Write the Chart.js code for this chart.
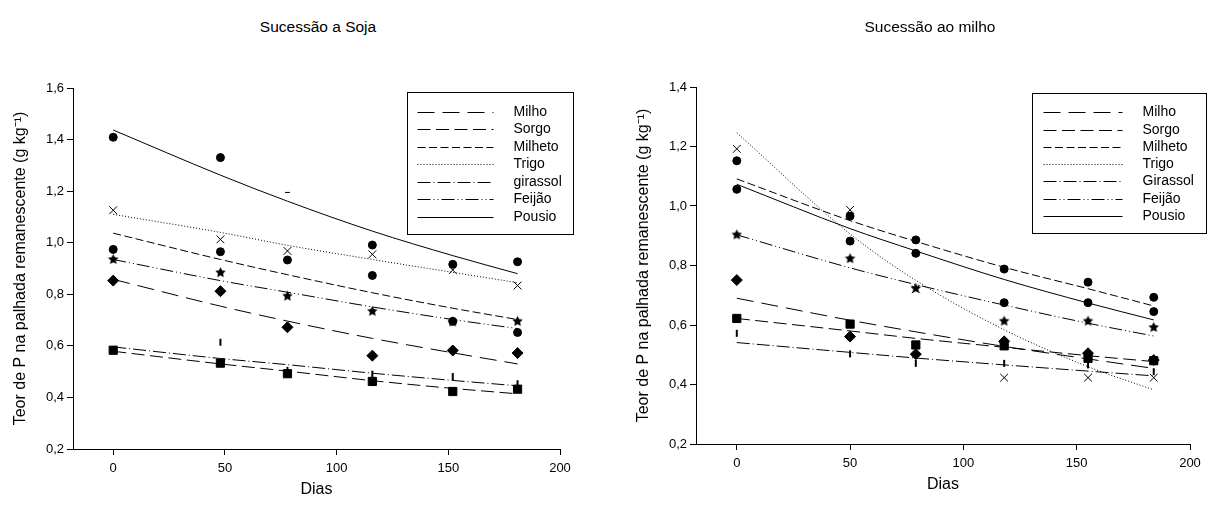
<!DOCTYPE html>
<html lang="pt">
<head>
<meta charset="utf-8">
<title>Teor de P na palhada remanescente</title>
<script src="https://cdn.jsdelivr.net/npm/chart.js@4.4.1/dist/chart.umd.min.js"></script>
<style>
    body { margin: 0; background: #fff; font-family: "Liberation Sans", Arial, sans-serif; }
    .painel { position: absolute; top: 0; height: 506px; }
    .painel h3 {
        position: absolute; top: 17px; left: 0; right: 0; margin: 0;
        text-align: center; font-weight: normal; font-size: 15.5px; line-height: 20px; color: #000;
    }
    .painel canvas { position: absolute; top: 40px; left: 0; }
</style>
</head>
<body>

<div class="painel" style="left:0;width:636px">
    <h3>Sucessão a Soja</h3>
    <canvas id="graficoSoja" width="636" height="466"></canvas>
</div>

<div class="painel" style="left:634px;width:592px">
    <h3>Sucessão ao milho</h3>
    <canvas id="graficoMilho" width="592" height="466"></canvas>
</div>

<script>
    // dias de coleta e eixos
    const diasSoja = [0, 48, 78, 116, 152, 181];
    const diasMilho = [0, 50, 79, 118, 155, 184];
    const ticksDias = [0, 50, 100, 150, 200];
    const ticksTeorSoja = [0.2, 0.4, 0.6, 0.8, 1.0, 1.2, 1.4, 1.6];
    const ticksTeorMilho = [0.2, 0.4, 0.6, 0.8, 1.0, 1.2, 1.4];

    const culturasSoja = ['Milho', 'Sorgo', 'Milheto', 'Trigo', 'girassol', 'Feijão', 'Pousio'];
    const culturasMilho = ['Milho', 'Sorgo', 'Milheto', 'Trigo', 'Girassol', 'Feijão', 'Pousio'];

    // teor medido - sucessão a soja
    const milhoSoja = [0.853, 0.812, 0.672, 0.562, 0.582, 0.572];
    const sorgoSoja = [0.583, 0.533, 0.492, 0.462, 0.423, 0.432];
    const milhetoSoja = [0.974, 0.965, 0.933, 0.873, 0.695, 0.652];
    const trigoSoja = [1.126, 1.013, 0.968, 0.955, 0.894, 0.834];
    const girassolSoja = [0.585, 0.614, 0.505, 0.490, 0.481, 0.453];
    const feijaoSoja = [0.935, 0.884, 0.793, 0.734, 0.693, 0.695];
    const pousioSoja = [1.409, 1.330, 1.195, 0.991, 0.916, 0.926];

    // curvas ajustadas - sucessão a soja
    const milhoAjSoja = [0.858, 0.754, 0.696, 0.629, 0.573, 0.530];
    const sorgoAjSoja = [0.579, 0.530, 0.502, 0.465, 0.435, 0.414];
    const milhetoAjSoja = [1.037, 0.935, 0.876, 0.806, 0.746, 0.702];
    const trigoAjSoja = [1.110, 1.040, 0.990, 0.935, 0.885, 0.845];
    const girassolAjSoja = [0.596, 0.551, 0.527, 0.494, 0.466, 0.445];
    const feijaoAjSoja = [0.935, 0.853, 0.808, 0.751, 0.702, 0.667];
    const pousioAjSoja = [1.437, 1.262, 1.161, 1.045, 0.950, 0.880];

    // teor medido - sucessão ao milho
    const milhoMilho = [0.751, 0.561, 0.502, 0.545, 0.505, 0.482];
    const sorgoMilho = [0.622, 0.603, 0.533, 0.530, 0.488, 0.480];
    const milhetoMilho = [1.152, 0.966, 0.886, 0.788, 0.744, 0.693];
    const trigoMilho = [1.192, 0.987, 0.720, 0.423, 0.423, 0.423];
    const girassolMilho = [0.572, 0.503, 0.471, 0.471, 0.466, 0.443];
    const feijaoMilho = [0.903, 0.823, 0.723, 0.613, 0.613, 0.592];
    const pousioMilho = [1.056, 0.882, 0.841, 0.675, 0.675, 0.645];

    // curvas ajustadas - sucessão ao milho
    const milhoAjMilho = [0.690, 0.616, 0.577, 0.528, 0.486, 0.454];
    const sorgoAjMilho = [0.622, 0.580, 0.555, 0.525, 0.497, 0.477];
    const milhetoAjMilho = [1.091, 0.951, 0.881, 0.794, 0.722, 0.664];
    const trigoAjMilho = [1.246, 0.906, 0.750, 0.584, 0.460, 0.382];
    const girassolAjMilho = [0.541, 0.508, 0.489, 0.466, 0.445, 0.429];
    const feijaoAjMilho = [0.903, 0.792, 0.736, 0.667, 0.606, 0.563];
    const pousioAjMilho = [1.073, 0.924, 0.849, 0.753, 0.674, 0.617];

    Chart.defaults.font.family = '"Liberation Sans", Arial, sans-serif';
    Chart.defaults.color = '#000';

    // estrela cheia (o 'star' do Chart.js é só um asterisco)
    function desenharEstrela(r) {
        const c = document.createElement('canvas');
        c.width = c.height = 2 * r + 2;
        const g = c.getContext('2d');
        g.beginPath();
        for (let i = 0; i < 10; i++) {
            const a = -Math.PI / 2 + i * Math.PI / 5;
            const rr = i % 2 ? r * 0.5 : r;
            g.lineTo(r + 1 + rr * Math.cos(a), r + 1 + rr * Math.sin(a));
        }
        g.closePath();
        g.fillStyle = '#000';
        g.fill();
        return c;
    }

    // tracejado de cada cultura, na ordem da legenda
    const tracos = [[17, 8], [13, 5.5], [8, 3.5], [1, 2], [13, 3, 1, 3], [13, 3, 1, 3, 1, 3], []];

    const marcadores = [
        { pointStyle: 'rectRot', pointRadius: 5.5 },
        { pointStyle: 'rect', pointRadius: 5.8 },
        { pointStyle: 'circle', pointRadius: 4 },
        { pointStyle: 'crossRot', pointRadius: 5.5, pointBorderWidth: 1, pointBackgroundColor: 'transparent' },
        { pointStyle: 'line', pointRadius: 3.5, pointRotation: 90, pointBorderWidth: 2 },
        { pointStyle: desenharEstrela(5.5) },
        { pointStyle: 'circle', pointRadius: 4 }
    ];

    function conjuntos(dias, nomes, medidos, ajustados) {
        const ds = [];
        nomes.forEach(function (nome, i) {
            ds.push({
                label: nome,
                ajuste: true,
                data: dias.map((d, j) => ({ x: d, y: ajustados[i][j] })),
                showLine: true,
                borderColor: '#000',
                borderWidth: 1,
                borderDash: tracos[i],
                pointRadius: 0,
                cubicInterpolationMode: 'monotone'
            });
            ds.push(Object.assign({
                label: nome + ' (medido)',
                data: dias.map((d, j) => ({ x: d, y: medidos[i][j] })),
                showLine: false,
                pointBackgroundColor: '#000',
                pointBorderColor: '#000',
                pointBorderWidth: 1
            }, marcadores[i]));
        });
        return ds;
    }

    // caixa da legenda dentro da área do gráfico
    const legendaCaixa = {
        id: 'legendaCaixa',
        afterDraw(chart, args, op) {
            const ctx = chart.ctx;
            const area = chart.chartArea;
            const x0 = Math.round(area.right + op.dx) + 0.5;
            const y0 = Math.round(area.top + op.dy) + 0.5;
            ctx.save();
            ctx.strokeStyle = '#000';
            ctx.lineWidth = 1;
            ctx.strokeRect(x0, y0, op.largura, op.altura);
            ctx.font = '14px "Liberation Sans", Arial, sans-serif';
            ctx.textBaseline = 'middle';
            ctx.fillStyle = '#000';
            chart.data.datasets.filter(d => d.ajuste).forEach(function (d, i) {
                const y = Math.round(y0 + op.primeira + i * op.passo) + 0.5;
                ctx.setLineDash(d.borderDash);
                ctx.beginPath();
                ctx.moveTo(x0 + op.linhaIni, y);
                ctx.lineTo(x0 + op.linhaFim, y);
                ctx.stroke();
                ctx.setLineDash([]);
                ctx.fillText(d.label, x0 + op.texto, y);
            });
            ctx.restore();
        }
    };

    function grafico(id, cfg) {
        return new Chart(document.getElementById(id), {
            type: 'scatter',
            data: { datasets: cfg.datasets },
            options: {
                responsive: false,
                animation: false,
                events: [],
                layout: { padding: { top: cfg.topo, right: cfg.direita, left: 0, bottom: 0 } },
                plugins: {
                    legend: { display: false },
                    tooltip: { enabled: false },
                    legendaCaixa: cfg.legenda
                },
                scales: {
                    x: {
                        type: 'linear',
                        min: -18,
                        max: 200,
                        afterBuildTicks: s => { s.ticks = ticksDias.map(v => ({ value: v })); },
                        afterFit: s => { s.height = cfg.alturaX; },
                        ticks: { font: { size: 13 }, padding: 6, maxRotation: 0 },
                        grid: { drawOnChartArea: false, tickLength: 6, color: '#000' },
                        border: { color: '#000' },
                        title: { display: true, text: 'Dias', font: { size: 16 }, padding: { top: 0, bottom: cfg.padDias } }
                    },
                    y: {
                        min: 0.2,
                        max: cfg.ticksY[cfg.ticksY.length - 1],
                        afterBuildTicks: s => { s.ticks = cfg.ticksY.map(v => ({ value: v })); },
                        afterFit: s => { s.width = cfg.larguraY; },
                        ticks: { font: { size: 13 }, padding: 3, callback: v => v.toFixed(1).replace('.', ',') },
                        grid: { drawOnChartArea: false, tickLength: 6, color: '#000' },
                        border: { color: '#000' },
                        title: {
                            display: true,
                            text: 'Teor de P na palhada remanescente (g kg⁻¹)',
                            font: { size: 16 },
                            padding: { top: cfg.padTeor, bottom: 0 }
                        }
                    }
                }
            },
            plugins: [legendaCaixa]
        });
    }

    const dadosSoja = conjuntos(diasSoja, culturasSoja,
        [milhoSoja, sorgoSoja, milhetoSoja, trigoSoja, girassolSoja, feijaoSoja, pousioSoja],
        [milhoAjSoja, sorgoAjSoja, milhetoAjSoja, trigoAjSoja, girassolAjSoja, feijaoAjSoja, pousioAjSoja]);
    // no pousio, a coleta dos 78 dias aparece só como um traço curto
    dadosSoja[13].pointStyle = ['circle', 'circle', 'line', 'circle', 'circle', 'circle'];
    dadosSoja[13].pointRadius = [4, 4, 2.5, 4, 4, 4];

    const dadosMilho = conjuntos(diasMilho, culturasMilho,
        [milhoMilho, sorgoMilho, milhetoMilho, trigoMilho, girassolMilho, feijaoMilho, pousioMilho],
        [milhoAjMilho, sorgoAjMilho, milhetoAjMilho, trigoAjMilho, girassolAjMilho, feijaoAjMilho, pousioAjMilho]);

    grafico('graficoSoja', {
        datasets: dadosSoja,
        ticksY: ticksTeorSoja,
        topo: 48, direita: 76, larguraY: 73, alturaX: 57,
        padDias: 7, padTeor: 11,
        legenda: { dx: -153, dy: 4, largura: 166, altura: 142, linhaIni: 10, linhaFim: 86, texto: 106, primeira: 19.4, passo: 17.5 }
    });

    grafico('graficoMilho', {
        datasets: dadosMilho,
        ticksY: ticksTeorMilho,
        topo: 47, direita: 36, larguraY: 62, alturaX: 62,
        padDias: 12, padTeor: 0,
        legenda: { dx: -158, dy: 6, largura: 174, altura: 140, linhaIni: 11, linhaFim: 90, texto: 110, primeira: 18.7, passo: 17.3 }
    });
</script>
</body>
</html>
